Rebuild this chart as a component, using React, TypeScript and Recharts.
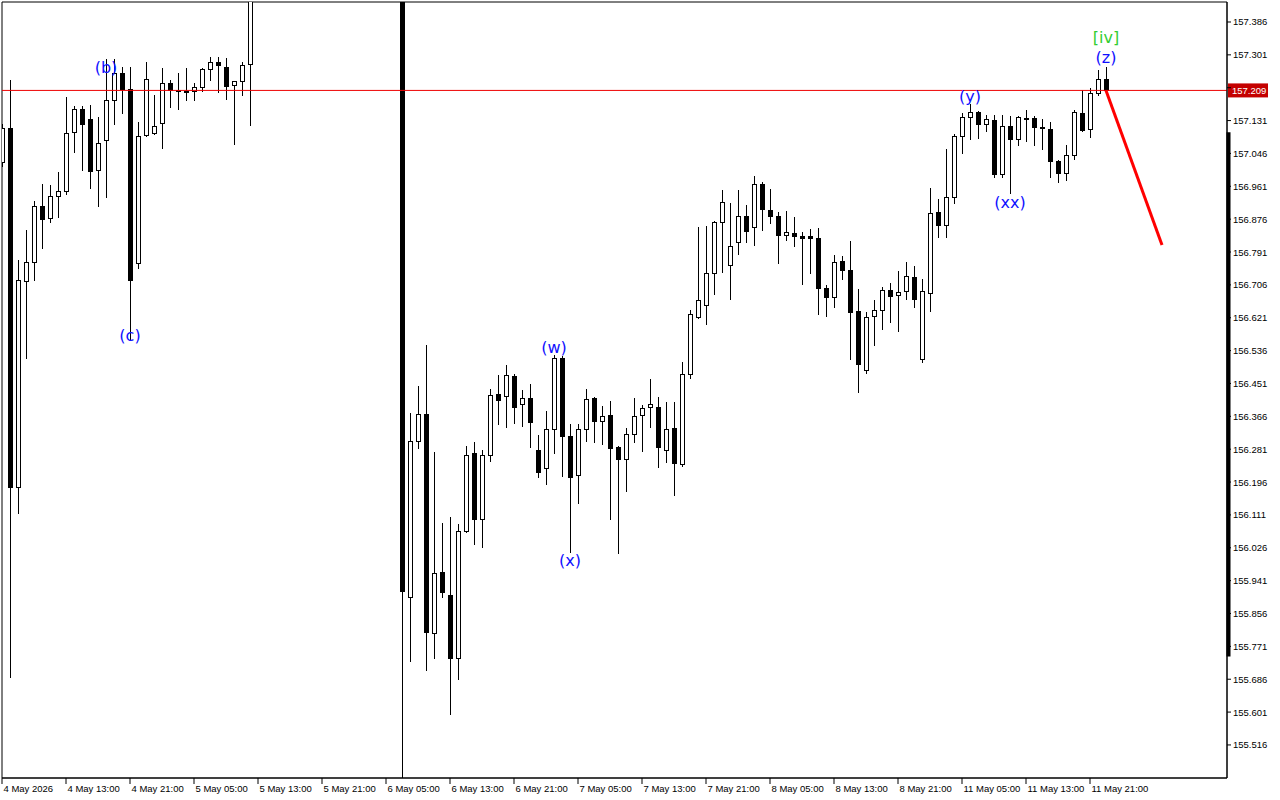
import React from 'react';
import {
  ComposedChart,
  Bar,
  XAxis,
  YAxis,
  ReferenceLine,
  ReferenceDot,
  ReferenceArea,
} from 'recharts';

// H1 bars, index 0 = 4 May 05:00. Bars 32..49 lie above the visible price range (not drawn).
const OPENS: (number | null)[] = [
  157.024, 157.112, 156.183, 156.716, 156.765, 156.910, 156.879, 156.936, 156.949, 157.102,
  157.161, 157.135, 157.003, 157.080, 157.184, 157.254, 157.213, 156.763, 157.094, 157.099,
  157.125, 157.228, 157.210, 157.208, 157.208, 157.218, 157.265, 157.283, 157.270, 157.223,
  157.233, 157.277,
  null, null, null, null, null, null, null, null, null, null, null, null, null, null, null, null, null, null,
  157.600, 155.899, 156.302, 156.372, 155.806, 155.963, 155.904, 155.741, 156.069, 156.271,
  156.100, 156.266, 156.424, 156.419, 156.470, 156.398, 156.413, 156.279, 156.232, 156.333,
  156.517, 156.315, 156.214, 156.333, 156.413, 156.354, 156.370, 156.287, 156.256, 156.320,
  156.370, 156.390, 156.390, 156.279, 156.336, 156.243, 156.476, 156.623, 156.654, 156.737,
  156.869, 156.758, 156.817, 156.884, 156.856, 156.967, 156.900, 156.884, 156.835, 156.840,
  156.833, 156.833, 156.827, 156.698, 156.675, 156.768, 156.745, 156.639, 156.486, 156.626,
  156.641, 156.693, 156.680, 156.690, 156.726, 156.514, 156.685, 156.895, 156.861, 156.933,
  157.091, 157.140, 157.153, 157.122, 157.133, 156.993, 157.117, 157.083, 157.138, 157.138,
  157.114, 157.109, 157.027, 156.996, 157.042, 157.151, 157.109, 157.202, 157.239,
];

const HIGHS: (number | null)[] = [
  157.122, 157.236, 156.770, 156.848, 156.923, 156.967, 156.964, 156.998, 157.192, 157.169,
  157.169, 157.171, 157.140, 157.290, 157.290, 157.270, 157.270, 157.127, 157.283, 157.197,
  157.267, 157.236, 157.254, 157.267, 157.228, 157.267, 157.296, 157.296, 157.293, 157.233,
  157.283, 157.620,
  null, null, null, null, null, null, null, null, null, null, null, null, null, null, null, null, null, null,
  157.620, 156.375, 156.445, 156.551, 156.274, 156.090, 156.106, 156.088, 156.289, 156.300,
  156.279, 156.437, 156.473, 156.499, 156.476, 156.434, 156.450, 156.318, 156.380, 156.525,
  156.522, 156.346, 156.346, 156.437, 156.415, 156.393, 156.406, 156.288, 156.336, 156.413,
  156.395, 156.463, 156.416, 156.403, 156.403, 156.507, 156.641, 156.856, 156.858, 156.871,
  156.952, 156.918, 156.952, 156.913, 156.988, 156.972, 156.954, 156.895, 156.897, 156.882,
  156.843, 156.851, 156.853, 156.706, 156.783, 156.781, 156.820, 156.695, 156.636, 156.667,
  156.701, 156.711, 156.742, 156.765, 156.755, 156.721, 156.957, 156.928, 157.058, 157.096,
  157.151, 157.174, 157.156, 157.146, 157.146, 157.146, 157.143, 157.143, 157.158, 157.143,
  157.135, 157.127, 157.028, 157.068, 157.158, 157.210, 157.215, 157.262, 157.270,
];

const LOWS: (number | null)[] = [
  157.014, 155.692, 156.116, 156.517, 156.719, 156.801, 156.869, 156.882, 156.941, 157.050,
  157.003, 156.957, 156.910, 156.933, 157.122, 157.151, 156.564, 156.750, 157.091, 157.096,
  157.060, 157.166, 157.161, 157.184, 157.184, 157.208, 157.236, 157.205, 157.187, 157.071,
  157.197, 157.120,
  null, null, null, null, null, null, null, null, null, null, null, null, null, null, null, null, null, null,
  155.400, 155.733, 156.284, 155.710, 155.741, 155.899, 155.596, 155.687, 156.067, 156.036,
  156.028, 156.251, 156.346, 156.338, 156.349, 156.341, 156.287, 156.209, 156.191, 156.271,
  156.212, 156.015, 156.142, 156.302, 156.300, 156.295, 156.100, 156.013, 156.173, 156.300,
  156.276, 156.338, 156.235, 156.248, 156.163, 156.238, 156.465, 156.620, 156.605, 156.683,
  156.739, 156.670, 156.786, 156.817, 156.809, 156.848, 156.866, 156.763, 156.822, 156.807,
  156.708, 156.737, 156.631, 156.626, 156.649, 156.721, 156.514, 156.429, 156.478, 156.551,
  156.592, 156.610, 156.587, 156.670, 156.649, 156.507, 156.639, 156.830, 156.830, 156.918,
  157.047, 157.083, 157.086, 157.104, 156.985, 156.985, 156.944, 157.068, 157.078, 157.068,
  157.058, 156.985, 156.972, 156.977, 157.032, 157.105, 157.089, 157.197, 157.209,
];

const CLOSES: (number | null)[] = [
  157.112, 156.183, 156.719, 156.765, 156.910, 156.877, 156.936, 156.949, 157.099, 157.162,
  157.122, 157.001, 157.074, 157.183, 157.254, 157.213, 156.719, 157.091, 157.239, 157.117,
  157.228, 157.210, 157.208, 157.206, 157.218, 157.265, 157.283, 157.276, 157.221, 157.233,
  157.275, 157.600,
  null, null, null, null, null, null, null, null, null, null, null, null, null, null, null, null, null, null,
  155.914, 156.302, 156.372, 155.808, 155.961, 155.912, 155.741, 156.069, 156.266, 156.100,
  156.266, 156.421, 156.408, 156.473, 156.390, 156.413, 156.351, 156.222, 156.333, 156.517,
  156.315, 156.209, 156.333, 156.411, 156.354, 156.367, 156.284, 156.256, 156.320, 156.367,
  156.388, 156.398, 156.287, 156.333, 156.245, 156.476, 156.631, 156.667, 156.737, 156.869,
  156.920, 156.807, 156.884, 156.845, 156.967, 156.902, 156.884, 156.835, 156.843, 156.833,
  156.827, 156.826, 156.698, 156.675, 156.765, 156.745, 156.636, 156.501, 156.623, 156.641,
  156.693, 156.677, 156.688, 156.729, 156.670, 156.690, 156.892, 156.861, 156.933, 157.091,
  157.140, 157.153, 157.122, 157.135, 156.993, 157.117, 157.083, 157.140, 157.134, 157.114,
  157.111, 157.027, 156.996, 157.042, 157.153, 157.107, 157.202, 157.239, 157.209,
];

const X_TICKS = [0, 8, 16, 24, 32, 40, 48, 56, 64, 72, 80, 88, 96, 104, 112, 120, 128, 136];
const X_TICK_LABELS = [
  '4 May 2026', '4 May 13:00', '4 May 21:00', '5 May 05:00', '5 May 13:00', '5 May 21:00',
  '6 May 05:00', '6 May 13:00', '6 May 21:00', '7 May 05:00', '7 May 13:00', '7 May 21:00',
  '8 May 05:00', '8 May 13:00', '8 May 21:00', '11 May 05:00', '11 May 13:00', '11 May 21:00',
];
const Y_TICKS = [
  155.516, 155.601, 155.686, 155.771, 155.856, 155.941, 156.026, 156.111, 156.196, 156.281,
  156.366, 156.451, 156.536, 156.621, 156.706, 156.791, 156.876, 156.961, 157.046, 157.131,
  157.216, 157.301, 157.386,
];
// tick whose label is hidden under the current-price label
const Y_TICK_COVERED = 157.216;
const X_DOMAIN: [number, number] = [0, 153.125];
const Y_DOMAIN: [number, number] = [155.4305, 157.4377];

const CURRENT_PRICE = 157.209;
const FORECAST_FROM = { i: 138, price: 157.209 };
const FORECAST_TO = { i: 145, price: 156.809 };
const SCALE_MARK_X = 153.3125;
const SCALE_MARK_RANGE = [157.101, 155.745];

const WAVE_LABELS = [
  { text: '(b)', i: 13, price: 157.267, color: '#1010ff' },
  { text: '(c)', i: 16, price: 156.574, color: '#1010ff' },
  { text: '(w)', i: 69, price: 156.545, color: '#1010ff' },
  { text: '(x)', i: 71, price: 155.992, color: '#1010ff' },
  { text: '(y)', i: 121, price: 157.192, color: '#1010ff' },
  { text: '(xx)', i: 126, price: 156.92, color: '#1010ff' },
  { text: '(z)', i: 138, price: 157.293, color: '#1010ff' },
  { text: '[iv]', i: 138, price: 157.345, color: '#32CD32' },
];

const AXIS_FONT = '"Liberation Sans", Arial, sans-serif';
const LABEL_FONT = '"DejaVu Sans", sans-serif';

const rows = OPENS.map((o, i) =>
  o == null
    ? null
    : {
        i,
        o,
        h: HIGHS[i] as number,
        l: LOWS[i] as number,
        c: CLOSES[i] as number,
        range: [LOWS[i] as number, HIGHS[i] as number],
      }
).filter((r) => r != null) as any[];

const Candle = (props: any) => {
  const { x, y, width, height, payload } = props;
  if (!payload || payload.o == null || !isFinite(y) || !isFinite(height)) return <g />;
  const { o, h, l, c } = payload;
  const cx = Math.round(x + width / 2);
  const span = h - l;
  const py = (p: number) => (span > 0 ? y + ((h - p) / span) * height : y);
  const yH = Math.round(py(h));
  const yL = Math.round(py(l));
  const yO = Math.round(py(o));
  const yC = Math.round(py(c));
  const top = Math.min(yO, yC);
  const bot = Math.max(yO, yC);
  const bull = c > o;
  return (
    <g shapeRendering="crispEdges">
      <line x1={cx + 0.5} x2={cx + 0.5} y1={yH} y2={yL + 1} stroke="#000" strokeWidth={1} />
      {bull ? (
        <rect x={cx - 1.5} y={top + 0.5} width={4} height={Math.max(bot - top, 1)} fill="#fff" stroke="#000" strokeWidth={1} />
      ) : (
        <rect x={cx - 2} y={top} width={5} height={Math.max(bot - top + 1, 1)} fill="#000" />
      )}
    </g>
  );
};

const XTick = (props: any) => {
  const { x, payload } = props;
  const idx = X_TICKS.indexOf(payload.value);
  return (
    <text x={x + 1.5} y={792} fontSize={9.5} fontFamily={AXIS_FONT} fill="#000" textAnchor="start">
      {idx >= 0 ? X_TICK_LABELS[idx] : ''}
    </text>
  );
};

const YTick = (props: any) => {
  const { x, y, payload } = props;
  if (Math.abs(Number(payload.value) - Y_TICK_COVERED) < 1e-6) return <g />;
  return (
    <text x={x} y={y + 3.5} fontSize={9.5} fontFamily={AXIS_FONT} fill="#000" textAnchor="start">
      {Number(payload.value).toFixed(3)}
    </text>
  );
};

const PriceLabel = (props: any) => {
  const vb = props.viewBox || {};
  const right = (vb.x || 0) + (vb.width || 0);
  const yy = vb.y || 0;
  return (
    <g>
      <rect x={right + 1} y={yy - 7} width={40} height={14} fill="#C40000" />
      <text x={right + 5} y={yy + 3.5} fontSize={9.5} fontFamily={AXIS_FONT} fill="#fff">
        {CURRENT_PRICE.toFixed(3)}
      </text>
    </g>
  );
};

const WaveText = (color: string, text: string) => (p: any) => (
  <text
    x={p.cx}
    y={p.cy}
    textAnchor="middle"
    dominantBaseline="central"
    fontSize={16}
    fontFamily={LABEL_FONT}
    fill={color}
  >
    {text}
  </text>
);

export default function App() {
  return (
    <div style={{ position: 'absolute', left: 0, top: 0, width: 1280, height: 800, background: '#fff' }}>
      <ComposedChart
        width={1280}
        height={800}
        data={rows}
        margin={{ top: 2, left: 2, right: 0, bottom: 0 }}
      >
        <XAxis
          dataKey="i"
          type="number"
          domain={X_DOMAIN}
          ticks={X_TICKS}
          interval={0}
          allowDataOverflow
          height={22}
          tickSize={6}
          axisLine={{ stroke: '#000' }}
          tickLine={{ stroke: '#000' }}
          tick={<XTick />}
        />
        <YAxis
          orientation="right"
          type="number"
          domain={Y_DOMAIN}
          ticks={Y_TICKS}
          interval={0}
          allowDataOverflow
          width={53}
          tickSize={4}
          axisLine={{ stroke: '#000' }}
          tickLine={{ stroke: '#000' }}
          tick={<YTick />}
        />
        <ReferenceArea
          x1={X_DOMAIN[0]}
          x2={X_DOMAIN[1]}
          y1={Y_DOMAIN[0]}
          y2={Y_DOMAIN[1]}
          fill="none"
          fillOpacity={0}
          stroke="#000"
          strokeWidth={1}
          ifOverflow="visible"
        />
        <Bar dataKey="range" barSize={6} shape={<Candle />} isAnimationActive={false} />
        <ReferenceLine
          y={CURRENT_PRICE}
          stroke="#EE0000"
          strokeWidth={1}
          label={<PriceLabel />}
          ifOverflow="visible"
        />
        <ReferenceLine
          segment={[
            { x: FORECAST_FROM.i, y: FORECAST_FROM.price },
            { x: FORECAST_TO.i, y: FORECAST_TO.price },
          ]}
          stroke="#FF0000"
          strokeWidth={3}
          ifOverflow="visible"
        />
        <ReferenceLine
          segment={[
            { x: SCALE_MARK_X, y: SCALE_MARK_RANGE[0] },
            { x: SCALE_MARK_X, y: SCALE_MARK_RANGE[1] },
          ]}
          stroke="#000"
          strokeWidth={4}
          ifOverflow="visible"
        />
        {WAVE_LABELS.map((w) => (
          <ReferenceDot
            key={w.text + w.i}
            x={w.i}
            y={w.price}
            r={0}
            ifOverflow="visible"
            shape={WaveText(w.color, w.text)}
          />
        ))}
      </ComposedChart>
    </div>
  );
}
